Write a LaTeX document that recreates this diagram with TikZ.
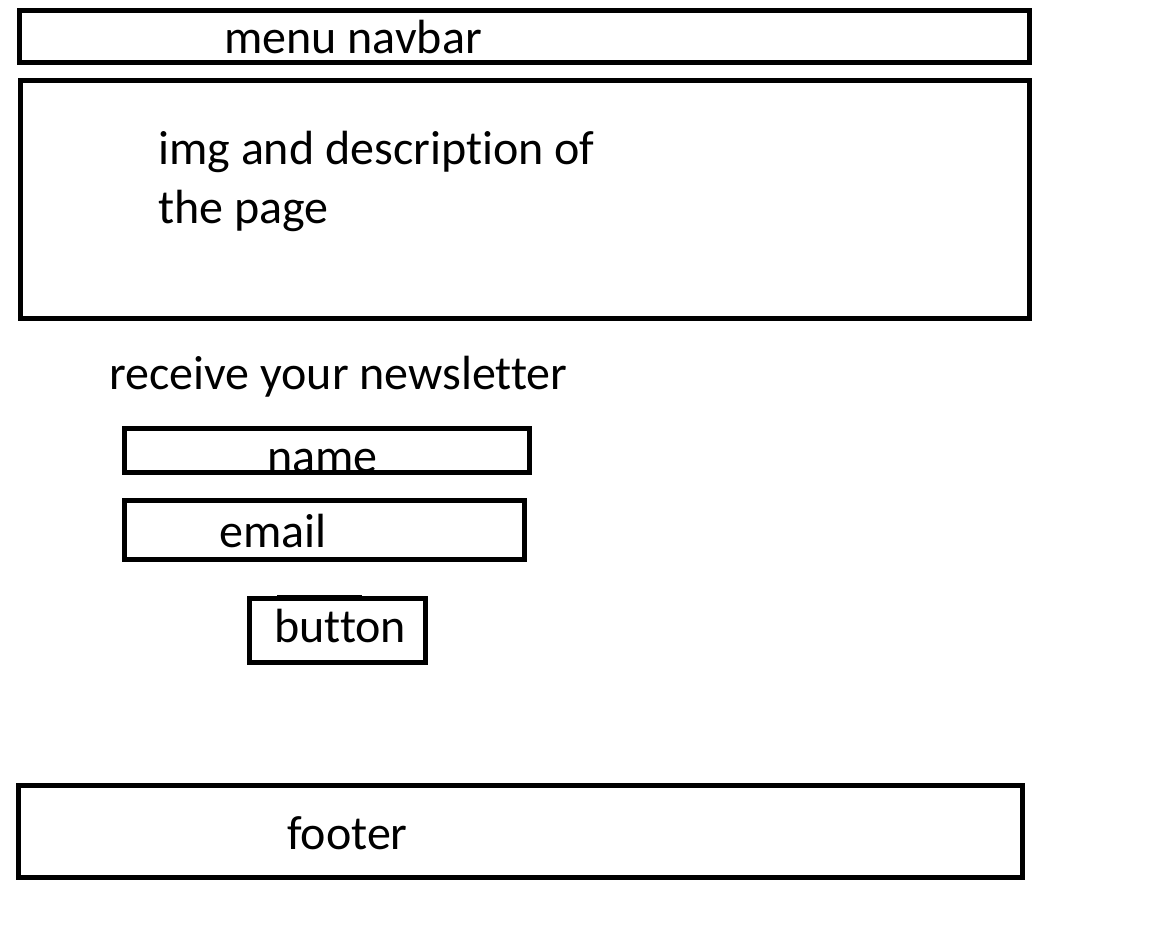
\documentclass[tikz,border=0pt]{standalone}
\usepackage{fontspec}
\setmainfont[Ligatures=NoCommon]{Carlito}
\usepackage{tikz}

\begin{document}
\begin{tikzpicture}[x=1pt, y=-1pt, baseline=0,
    box/.style={line width=5pt},
    lbl/.style={anchor=base west, inner sep=0pt, font=\fontsize{48}{58}\selectfont}]
    \useasboundingbox (0,0) rectangle (1171,939);
    \draw[box] (19.5,10.5) rectangle (1029.5,62.5);
    \node[lbl] (navbar) at (224,54) {menu navbar};
    \draw[box] (20,80.5) rectangle (1029,318.5);
    \node[lbl] (descA) at (158,165) {img and description of};
    \node[lbl] (descB) at (158,224) {the page};
    \node[lbl] (newsletter) at (109,389) {receive your newsletter};
    \draw[box] (124.5,428.5) rectangle (529.5,472.5);
    \node[lbl] (name) at (267,472) {name};
    \draw[box] (124.5,500.5) rectangle (524.5,559.5);
    \node[lbl] (email) at (219,547) {email};
    \draw[box] (249.5,598.5) rectangle (425.5,662.5);
    \draw[line width=2pt] (277,596) -- (362,596);
    \node[lbl] (button) at (274,642) {button};
    \draw[box] (18.5,785.5) rectangle (1022.5,877.5);
    \node[lbl] (footer) at (287,849) {footer};
\end{tikzpicture}
\end{document}
